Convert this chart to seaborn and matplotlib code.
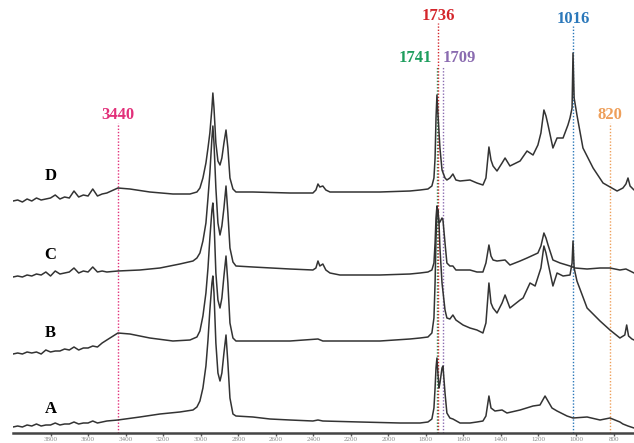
import numpy as np
import pandas as pd
import matplotlib
matplotlib.use("Agg")
import matplotlib.pyplot as plt
import seaborn as sns

# wavenumbers (cm-1) and stacked intensities (a.u.)
noise_wn = [4000, 3975, 3950, 3925, 3900, 3875, 3850, 3825, 3800, 3775, 3750,
            3725, 3700, 3675, 3650, 3625, 3600, 3575, 3550, 3525, 3500]

wn_D = noise_wn + [3441, 3377, 3271, 3148, 3057, 3020, 3004, 2988, 2972, 2961, 2951, 2940, 2935, 2929,
                   2919, 2908, 2897, 2887, 2876, 2865, 2855, 2844, 2828, 2812, 2722, 2524, 2402, 2386,
                   2375, 2365, 2349, 2333, 2311, 2258, 2045, 1885, 1831, 1789, 1768, 1757, 1751, 1746,
                   1741, 1736, 1725, 1714, 1698, 1688, 1672, 1656, 1640, 1618, 1565, 1528, 1496, 1480,
                   1464, 1453, 1442, 1421, 1394, 1378, 1352, 1298, 1261, 1229, 1203, 1187, 1171, 1160,
                   1149, 1123, 1101, 1069, 1043, 1032, 1021, 1016, 1010, 995, 963, 909, 856, 781,
                   750, 734, 723, 712, 691]
int_D = [232, 233, 231, 234, 232, 235, 233, 234, 235, 238, 234, 236, 235, 242, 236, 238, 237, 244, 237, 239, 240,
         245, 244, 241, 239, 239, 241, 245, 255, 270, 285, 300, 325, 340, 325,
         290, 272, 268, 275, 290, 303, 285, 255, 244, 241, 241, 240, 240, 243,
         249, 246, 247, 243, 241, 241, 241, 242, 243, 244, 247, 255, 275, 315,
         338, 320, 285, 263, 255, 253, 255, 259, 253, 252, 253, 250, 248, 255,
         286, 273, 267, 262, 270, 275, 267, 272, 282, 278, 288, 300, 323, 317,
         308, 285, 295, 295, 308, 315, 325, 380, 335, 318, 285, 265, 250, 242,
         245, 249, 255, 247, 243]

wn_C = noise_wn + [3441, 3324, 3217, 3111, 3041, 3020, 3004, 2988, 2972, 2961, 2951, 2940, 2935, 2929,
                   2919, 2908, 2897, 2887, 2876, 2865, 2855, 2844, 2828, 2812, 2722, 2524, 2402, 2386,
                   2375, 2365, 2349, 2333, 2311, 2258, 2045, 1885, 1831, 1789, 1768, 1757, 1751, 1746,
                   1741, 1736, 1730, 1725, 1714, 1709, 1698, 1688, 1672, 1656, 1640, 1565, 1528, 1496,
                   1480, 1464, 1453, 1442, 1421, 1378, 1352, 1298, 1261, 1203, 1187, 1171, 1160, 1149,
                   1123, 1085, 1032, 1005, 941, 872, 819, 766, 734, 712, 691]
int_C = [156, 157, 156, 158, 157, 159, 158, 161, 157, 162, 159, 160, 161, 165, 160, 162, 161, 166, 161, 162, 161,
         162, 163, 165, 169, 172, 175, 180, 192, 210, 235, 260, 295, 307, 290,
         245, 210, 198, 207, 225, 247, 220, 185, 171, 167, 166, 164, 163, 165,
         172, 167, 169, 163, 160, 158, 158, 159, 160, 161, 163, 170, 190, 215,
         227, 220, 210, 211, 215, 213, 190, 170, 167, 167, 163, 163, 161, 161,
         170, 188, 177, 173, 172, 173, 168, 172, 175, 180, 187, 200, 195, 188,
         173, 170, 167, 165, 164, 165, 165, 163, 164, 162, 160]

wn_B = noise_wn + [3441, 3377, 3271, 3148, 3057, 3020, 3004, 2988, 2972, 2961, 2951, 2940, 2935, 2929,
                   2919, 2908, 2897, 2887, 2876, 2865, 2855, 2844, 2828, 2812, 2524, 2375, 2349, 2045,
                   1885, 1831, 1789, 1768, 1757, 1751, 1746, 1741, 1736, 1730, 1725, 1714, 1698, 1688,
                   1672, 1656, 1640, 1602, 1565, 1528, 1496, 1480, 1464, 1453, 1442, 1421, 1394, 1378,
                   1352, 1298, 1282, 1245, 1218, 1187, 1171, 1160, 1149, 1123, 1101, 1069, 1032, 1021,
                   1016, 1010, 995, 941, 872, 819, 766, 740, 730, 720, 702, 691]
int_B = [79, 80, 79, 81, 80, 81, 79, 83, 81, 82, 82, 84, 83, 86, 83, 85, 85, 87, 86, 90, 93,
         100, 99, 95, 92, 93, 96, 102, 117, 140, 165, 195, 223, 230, 213,
         160, 133, 125, 135, 157, 177, 150, 110, 95, 92, 92, 94, 92, 92,
         94, 95, 96, 100, 115, 150, 195, 220, 223, 210, 185, 150, 123, 115,
         114, 118, 113, 108, 105, 103, 100, 110, 150, 130, 125, 120, 130, 138,
         125, 133, 135, 150, 147, 165, 187, 180, 170, 147, 160, 157, 158, 170,
         192, 165, 152, 125, 112, 103, 95, 98, 108, 97, 94, 93]

wn_A = noise_wn + [3441, 3324, 3217, 3111, 3041, 3020, 3004, 2988, 2972, 2961, 2951, 2940, 2935, 2929,
                   2919, 2908, 2897, 2887, 2876, 2865, 2855, 2844, 2828, 2812, 2722, 2631, 2524, 2402,
                   2375, 2349, 2151, 1938, 1831, 1789, 1768, 1757, 1751, 1746, 1741, 1736, 1730, 1725,
                   1714, 1709, 1698, 1688, 1672, 1656, 1618, 1565, 1528, 1496, 1480, 1464, 1453, 1432,
                   1394, 1368, 1298, 1229, 1192, 1165, 1128, 1101, 1048, 1016, 941, 872, 819, 766,
                   750, 723, 691]
int_A = [6, 7, 6, 8, 7, 9, 7, 8, 8, 10, 8, 9, 9, 11, 9, 10, 10, 12, 10, 11, 12,
         13, 16, 19, 21, 23, 26, 32, 45, 67, 93, 123, 150, 157, 140,
         90, 60, 52, 60, 80, 98, 70, 35, 19, 17, 16, 14, 13, 12,
         13, 12, 11, 10, 10, 11, 14, 25, 45, 65, 75, 60, 45, 50,
         65, 67, 40, 20, 15, 14, 10, 10, 11, 12, 17, 37, 25, 22,
         23, 20, 23, 27, 28, 37, 25, 22, 17, 15, 16, 13, 15, 11,
         9, 7, 5]

samples = ["A", "B", "C", "D"]
label_level = [24, 100, 178, 257]

peak_wn = [3440, 1741, 1736, 1709, 1016, 820]
peak_labels = ["3440", "1741", "1736", "1709", "1016", "820"]
peak_colors = ["#e2307a", "#1f9e5e", "#d4262c", "#8a6bb0", "#2b78ba", "#ee9f5a"]

ticks = [3800, 3600, 3400, 3200, 3000, 2800, 2600, 2400, 2200, 2000, 1800, 1600, 1400, 1200, 1000, 800]

frames = []
for name, w, v in [("A", wn_A, int_A), ("B", wn_B, int_B), ("C", wn_C, int_C), ("D", wn_D, int_D)]:
    frames.append(pd.DataFrame({"wavenumber": w, "intensity": v, "sample": name}))
df = pd.concat(frames, ignore_index=True)

sns.set_style("white")
plt.rcParams["font.family"] = ["Liberation Serif", "DejaVu Serif"]

fig = plt.figure(figsize=(6.34, 4.43), dpi=100)
ax = fig.add_axes([13 / 634, 10 / 443, 1 - 13 / 634, 1 - 10 / 443])

# dotted marker lines first so the spectra sit on top
line_tops = [310, 367, 410, 367, 407, 310]
text_y = [318, 375, 417, 375, 414, 318]
text_x = [3440, 1858, 1736, 1624, 1016, 820]
for w, lab, col, top, ty, tx in zip(peak_wn, peak_labels, peak_colors, line_tops, text_y, text_x):
    ax.vlines(w, 0, top, colors=col, linestyles=(0, (1, 1.3)), linewidth=1.0)
    ax.text(tx, ty, lab, color=col, fontsize=12, fontweight="bold",
            ha="center", va="center")

for name in samples:
    sub = df[df["sample"] == name]
    sns.lineplot(data=sub, x="wavenumber", y="intensity", sort=False, estimator=None,
                 color="#333333", linewidth=1.1, ax=ax)

for name, lv in zip(samples, label_level):
    ax.text(3800, lv, name, fontsize=12, fontweight="bold", color="black",
            ha="center", va="center")

ax.set_xlim(4000, 691)
ax.set_ylim(0, 433)
ax.set_xticks(ticks)
ax.set_xticklabels([str(t) for t in ticks], fontsize=5, color="#888888")
ax.tick_params(axis="x", direction="out", length=2.5, width=1, color="#555555", pad=0.5, bottom=True)
ax.set_yticks([])
ax.set_xlabel("")
ax.set_ylabel("")
for side in ["top", "left", "right"]:
    ax.spines[side].set_visible(False)
ax.spines["bottom"].set_linewidth(1.8)
ax.spines["bottom"].set_color("#444444")

fig.savefig("out.png", dpi=100)
